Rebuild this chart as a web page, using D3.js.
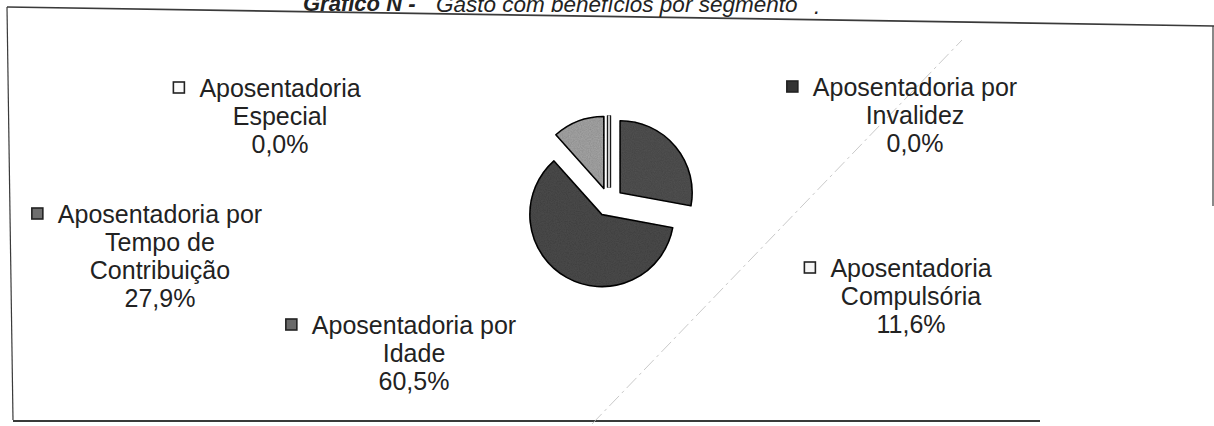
<!DOCTYPE html>
<html>
<head>
<meta charset="utf-8">
<script src="https://cdn.jsdelivr.net/npm/d3@7"></script>
<style>
  body { margin: 0; background: #fff; }
  svg { display: block; }
  text { font-family: "Liberation Sans", Arial, sans-serif; fill: #222; }
</style>
</head>
<body>
<svg></svg>
<script>
// data (pie order, clockwise from 12 o'clock)
var categories = ["Aposentadoria por Tempo de Contribuição", "Aposentadoria por Idade",
    "Aposentadoria Compulsória", "Aposentadoria Especial", "Aposentadoria por Invalidez"];
var values = [27.9, 60.5, 11.6, 0.0, 0.0];
var valueLabels = ["27,9%", "60,5%", "11,6%", "0,0%", "0,0%"];
// label lines as broken in the picture
var labelLines = [
    ["Aposentadoria por", "Tempo de", "Contribuição"],
    ["Aposentadoria por", "Idade"],
    ["Aposentadoria", "Compulsória"],
    ["Aposentadoria", "Especial"],
    ["Aposentadoria por", "Invalidez"]
];
var titleLeft = "Gráfico N -";
var titleText = "Gasto com benefícios por segmento";

var sliceColors = ["#525252", "#4d4d4d", "#a8a8a8", "#f4f4f4", "#2e2e2e"];
var keyColors = ["#6e6e6e", "#696969", "#f6f6f6", "#fafafa", "#333333"];
// label anchors: center x, first baseline y
var labelPos = [[160, 223], [414, 334], [911, 277], [280, 97], [915, 96]];

var svgWidth = 1214;
var svgHeight = 426;
var cx = 609, cy = 202;
var radius = 72;
var explode = 14.5;
var lineHeight = 28;

var svg = d3.select("svg")
    .attr("width", svgWidth)
    .attr("height", svgHeight);

// grain to look like the scanned print
var defs = svg.append("defs");
var grain = defs.append("filter").attr("id", "grain")
    .attr("x", "-10%").attr("y", "-10%").attr("width", "120%").attr("height", "120%");
grain.append("feTurbulence").attr("type", "fractalNoise").attr("baseFrequency", 0.9)
    .attr("numOctaves", 2).attr("seed", 3).attr("result", "noise");
grain.append("feColorMatrix").attr("in", "noise").attr("type", "matrix")
    .attr("values", "0 0 0 0 0  0 0 0 0 0  0 0 0 0 0  0 0 0 0.35 0").attr("result", "dots");
grain.append("feComposite").attr("in", "dots").attr("in2", "SourceGraphic")
    .attr("operator", "in").attr("result", "dotsIn");
grain.append("feMerge").selectAll("feMergeNode")
    .data(["SourceGraphic", "dotsIn"]).enter()
    .append("feMergeNode").attr("in", function(d) { return d; });

// frame (slightly skewed like the scan)
var frame = svg.append("g").attr("fill", "none").attr("stroke", "#3a3a3a");
frame.append("line").attr("x1", 7).attr("y1", 7).attr("x2", 13).attr("y2", 420).attr("stroke-width", 1.2);
frame.append("line").attr("x1", 7).attr("y1", 7).attr("x2", 1214).attr("y2", 26).attr("stroke-width", 1.6);
frame.append("line").attr("x1", 1213).attr("y1", 26).attr("x2", 1213).attr("y2", 206).attr("stroke-width", 1.2);
frame.append("line").attr("x1", 13).attr("y1", 421).attr("x2", 1040).attr("y2", 421).attr("stroke-width", 2);

// faint fold mark
svg.append("line")
    .attr("x1", 592).attr("y1", 424).attr("x2", 962).attr("y2", 40)
    .attr("stroke", "#bbb").attr("stroke-width", 0.8)
    .attr("stroke-dasharray", "14,4,3,4");

// title
svg.append("text")
    .attr("x", 303).attr("y", 11)
    .attr("font-size", 22).attr("font-style", "italic").attr("font-weight", "bold")
    .text(titleLeft);
svg.append("text")
    .attr("x", 436).attr("y", 12)
    .attr("font-size", 22.5).attr("font-style", "italic")
    .text(titleText);
svg.append("text")
    .attr("x", 814).attr("y", 14)
    .attr("font-size", 22.5).attr("font-style", "italic")
    .text(".");

// pie
var pie = d3.pie().sort(null).value(function(d) { return d; });
var arcs = pie(values);
var arc = d3.arc().innerRadius(0).outerRadius(radius);

function explodeShift(d) {
    var mid = (d.startAngle + d.endAngle) / 2;
    return "translate(" + [Math.sin(mid) * explode, -Math.cos(mid) * explode] + ")";
}

var pieG = svg.append("g").attr("transform", "translate(" + cx + "," + cy + ")");

pieG.selectAll("path.slice")
    .data(arcs.filter(function(d) { return d.value > 0; }))
    .enter()
    .append("path")
    .attr("class", "slice")
    .attr("d", arc)
    .attr("fill", function(d) { return sliceColors[d.index]; })
    .attr("stroke", "#111")
    .attr("stroke-width", 1.6)
    .attr("stroke-linejoin", "round")
    .attr("filter", "url(#grain)")
    .attr("transform", explodeShift);

// 0% slices: outlined hairline wedges
var zero = arcs.filter(function(d) { return d.value === 0; });
pieG.selectAll("path.zeroOut")
    .data(zero)
    .enter()
    .append("path")
    .attr("class", "zeroOut")
    .attr("d", arc)
    .attr("fill", "none")
    .attr("stroke", "#1a1a1a")
    .attr("stroke-width", 4.2)
    .attr("transform", explodeShift);
pieG.selectAll("path.zeroIn")
    .data(zero.slice(0, 1))
    .enter()
    .append("path")
    .attr("class", "zeroIn")
    .attr("d", arc)
    .attr("fill", "none")
    .attr("stroke", "#f4f4f4")
    .attr("stroke-width", 1.6)
    .attr("transform", explodeShift);

// labels with legend key
var labels = svg.selectAll("g.label")
    .data(arcs)
    .enter()
    .append("g")
    .attr("class", "label");

labels.each(function(d, i) {
    var g = d3.select(this);
    var pos = labelPos[i];
    var lines = labelLines[i].concat([valueLabels[i]]);
    var first;
    lines.forEach(function(t, k) {
        var tx = g.append("text")
            .attr("x", pos[0])
            .attr("y", pos[1] + k * lineHeight)
            .attr("text-anchor", "middle")
            .attr("font-size", 25)
            .text(t);
        if (k === 0) first = tx;
    });
    var w = first.node().getComputedTextLength();
    g.append("rect")
        .attr("x", pos[0] - w / 2 - 26)
        .attr("y", pos[1] - 15)
        .attr("width", 11)
        .attr("height", 11)
        .attr("fill", keyColors[i])
        .attr("stroke", "#222")
        .attr("stroke-width", 1.6);
});
</script>
</body>
</html>
